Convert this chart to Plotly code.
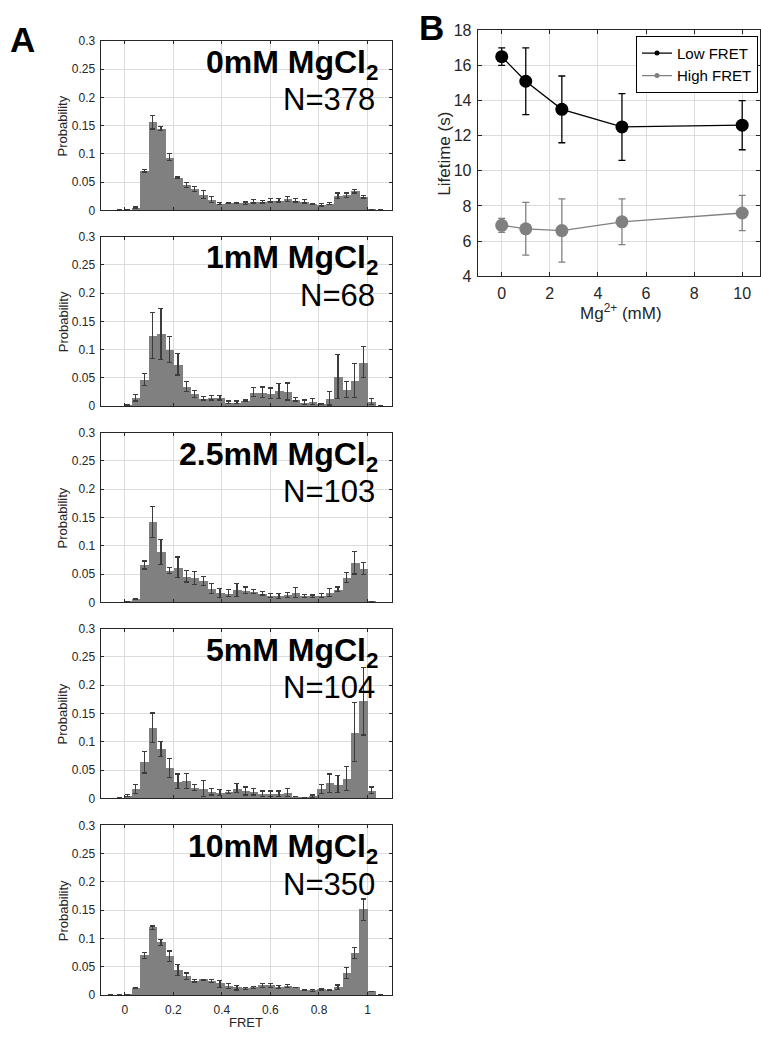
import plotly.graph_objects as go

# ---------------- data ----------------
fret_centers = [-0.058, -0.024, 0.011, 0.045, 0.080, 0.115, 0.149, 0.184, 0.219, 0.253,
                0.288, 0.323, 0.357, 0.392, 0.427, 0.462, 0.496, 0.531, 0.566, 0.600,
                0.635, 0.670, 0.704, 0.739, 0.774, 0.809, 0.843, 0.878, 0.913, 0.948,
                0.982, 1.017, 1.052]
bin_width = 0.0347

prob_0mM = [0, 0.001, 0.001, 0.005, 0.070, 0.156, 0.145, 0.094, 0.058, 0.045, 0.038, 0.028,
            0.019, 0.012, 0.013, 0.013, 0.013, 0.016, 0.015, 0.018, 0.018, 0.020, 0.018,
            0.016, 0.011, 0.010, 0.012, 0.026, 0.027, 0.034, 0.024, 0.002, 0.001]
err_0mM = [0, 0, 0, 0.001, 0.002, 0.012, 0.003, 0.006, 0.001, 0.004, 0.005, 0.007, 0.005,
           0.002, 0.001, 0.001, 0.002, 0.003, 0.002, 0.003, 0.003, 0.004, 0.003, 0.003,
           0.001, 0.002, 0.002, 0.005, 0.004, 0.003, 0.002, 0, 0]

prob_1mM = [0, 0, 0.002, 0.015, 0.047, 0.125, 0.128, 0.100, 0.074, 0.035, 0.022, 0.014,
            0.015, 0.015, 0.007, 0.007, 0.010, 0.025, 0.025, 0.023, 0.027, 0.026, 0.012,
            0.007, 0.008, 0.004, 0.014, 0.053, 0.029, 0.045, 0.078, 0.008, 0.001]
err_1mM = [0, 0, 0, 0.006, 0.011, 0.041, 0.045, 0.023, 0.019, 0.009, 0.006, 0.003, 0.004,
           0.004, 0.002, 0.002, 0.001, 0.008, 0.009, 0.009, 0.013, 0.015, 0.003, 0.004,
           0.005, 0, 0.012, 0.039, 0.014, 0.030, 0.027, 0.005, 0]

prob_2p5mM = [0, 0, 0.002, 0.006, 0.066, 0.142, 0.089, 0.056, 0.062, 0.046, 0.043, 0.038,
              0.024, 0.017, 0.016, 0.022, 0.021, 0.019, 0.016, 0.012, 0.011, 0.013, 0.017,
              0.011, 0.011, 0.012, 0.018, 0.023, 0.044, 0.070, 0.060, 0.002, 0]
err_2p5mM = [0, 0, 0, 0, 0.007, 0.027, 0.022, 0.005, 0.018, 0.010, 0.011, 0.008, 0.009,
             0.008, 0.006, 0.011, 0.006, 0.003, 0.003, 0.004, 0.004, 0.004, 0.009, 0.003,
             0.002, 0.003, 0.007, 0.004, 0.009, 0.020, 0.011, 0, 0]

prob_5mM = [0, 0.001, 0.005, 0.017, 0.064, 0.125, 0.087, 0.054, 0.030, 0.031, 0.019, 0.018,
            0.012, 0.010, 0.011, 0.018, 0.013, 0.012, 0.008, 0.008, 0.008, 0.010, 0.003,
            0.002, 0.004, 0.017, 0.027, 0.025, 0.035, 0.117, 0.172, 0.014, 0]
err_5mM = [0, 0, 0.002, 0.008, 0.019, 0.026, 0.013, 0.017, 0.013, 0.013, 0.005, 0.014,
           0.006, 0.005, 0.003, 0.008, 0.007, 0.006, 0.005, 0.005, 0.005, 0.007, 0, 0,
           0.002, 0.008, 0.016, 0.015, 0.021, 0.052, 0.060, 0.006, 0]

prob_10mM = [0, 0, 0.001, 0.012, 0.070, 0.119, 0.093, 0.069, 0.044, 0.033, 0.025, 0.027,
             0.025, 0.020, 0.016, 0.013, 0.012, 0.013, 0.017, 0.017, 0.014, 0.016, 0.014,
             0.009, 0.008, 0.010, 0.009, 0.014, 0.039, 0.074, 0.151, 0.007, 0]
err_10mM = [0, 0, 0, 0.001, 0.005, 0.003, 0.005, 0.009, 0.010, 0.006, 0.002, 0.001, 0.003,
            0.006, 0.005, 0.004, 0.002, 0.002, 0.003, 0.003, 0.003, 0.003, 0, 0, 0.002,
            0.001, 0.001, 0.004, 0.010, 0.010, 0.019, 0, 0]

panel_titles = ["0mM MgCl<sub>2</sub>", "1mM MgCl<sub>2</sub>", "2.5mM MgCl<sub>2</sub>",
                "5mM MgCl<sub>2</sub>", "10mM MgCl<sub>2</sub>"]
panel_counts = ["N=378", "N=68", "N=103", "N=104", "N=350"]
panel_probs = [prob_0mM, prob_1mM, prob_2p5mM, prob_5mM, prob_10mM]
panel_errs = [err_0mM, err_1mM, err_2p5mM, err_5mM, err_10mM]

hist_yticks = [0, 0.05, 0.1, 0.15, 0.2, 0.25, 0.3]
hist_yticklabels = ["0", "0.05", "0.1", "0.15", "0.2", "0.25", "0.3"]
hist_xticks = [0, 0.2, 0.4, 0.6, 0.8, 1]
hist_xticklabels = ["0", "0.2", "0.4", "0.6", "0.8", "1"]

mg_conc = [0, 1, 2.5, 5, 10]
low_fret_life = [16.5, 15.1, 13.5, 12.5, 12.6]
low_fret_err = [0.5, 1.9, 1.9, 1.9, 1.4]
high_fret_life = [6.9, 6.7, 6.6, 7.1, 7.6]
high_fret_err = [0.4, 1.5, 1.8, 1.3, 1.0]

# ---------------- layout geometry (pixels) ----------------
W, H = 761, 1040
FONT = "Liberation Sans, Arial, sans-serif"
AX = "#262626"
GRID = "#dcdcdc"
BAR = "#808080"
ERR = "#3c3c3c"

def px_x(p):
    return p / W

def px_y(p):
    return 1 - p / H

a_left, a_right = 100.7, 392.3
panel_tops = [33.3, 232.3, 431.7, 631.0, 831.0]
panel_h = 172.5

fig = go.Figure()
annotations = []

for k in range(5):
    xa = "x" if k == 0 else f"x{k+1}"
    ya = "y" if k == 0 else f"y{k+1}"
    fig.add_trace(go.Bar(
        x=fret_centers, y=panel_probs[k], width=bin_width,
        marker=dict(color=BAR, line=dict(width=0)),
        error_y=dict(type="data", array=panel_errs[k], color=ERR, thickness=1.2, width=2.5),
        xaxis=xa, yaxis=ya, showlegend=False,
    ))
    top = panel_tops[k]
    bot = top + panel_h
    axkey_x = "xaxis" if k == 0 else f"xaxis{k+1}"
    axkey_y = "yaxis" if k == 0 else f"yaxis{k+1}"
    last = (k == 4)
    fig.update_layout(**{
        axkey_x: dict(domain=[px_x(a_left), px_x(a_right)], anchor=ya, range=[-0.1, 1.1],
                      tickvals=hist_xticks, ticktext=hist_xticklabels, showticklabels=last,
                      ticks="inside", ticklen=3, tickcolor=AX, showline=True, linecolor=AX,
                      linewidth=1, mirror="ticks", showgrid=True, gridcolor=GRID, zeroline=False,
                      ticklabelstandoff=4,
                      tickfont=dict(family=FONT, size=12, color=AX)),
        axkey_y: dict(domain=[px_y(bot), px_y(top)], anchor=xa, range=[0, 0.3],
                      tickvals=hist_yticks, ticktext=hist_yticklabels,
                      ticks="inside", ticklen=3, tickcolor=AX, showline=True, linecolor=AX,
                      linewidth=1, mirror="ticks", showgrid=True, gridcolor=GRID, zeroline=False,
                      ticklabelstandoff=2,
                      tickfont=dict(family=FONT, size=12, color=AX)),
    })
    annotations.append(dict(text="<b>" + panel_titles[k] + "</b>", xref="paper", yref="paper",
                            x=px_x(381), y=px_y(top + 1), xanchor="right", yanchor="top",
                            showarrow=False, font=dict(family=FONT, size=32, color="black")))
    annotations.append(dict(text=panel_counts[k], xref="paper", yref="paper",
                            x=px_x(377), y=px_y(top + 40), xanchor="right", yanchor="top",
                            showarrow=False, font=dict(family=FONT, size=31, color="black")))
    annotations.append(dict(text="Probability", xref="paper", yref="paper",
                            x=px_x(63), y=px_y(top + panel_h / 2), xanchor="center", yanchor="middle",
                            textangle=-90, showarrow=False, font=dict(family=FONT, size=13, color=AX)))

annotations.append(dict(text="FRET", xref="paper", yref="paper", x=px_x(246.5), y=px_y(1031),
                        xanchor="center", yanchor="middle", showarrow=False,
                        font=dict(family=FONT, size=13, color=AX)))
annotations.append(dict(text="<b>A</b>", xref="paper", yref="paper", x=px_x(8), y=px_y(10),
                        xanchor="left", yanchor="top", showarrow=False,
                        font=dict(family=FONT, size=35, color="black")))
annotations.append(dict(text="<b>B</b>", xref="paper", yref="paper", x=px_x(418), y=px_y(-2),
                        xanchor="left", yanchor="top", showarrow=False,
                        font=dict(family=FONT, size=35, color="black")))

# ---------------- panel B ----------------
b_left, b_right, b_top, b_bot = 478.3, 761, 22.7, 272.7
fig.add_trace(go.Scatter(
    x=mg_conc, y=high_fret_life, mode="lines+markers",
    line=dict(color="#808080", width=1.3), marker=dict(color="#808080", size=13),
    error_y=dict(type="data", array=high_fret_err, color="#808080", thickness=1.3, width=3.5),
    xaxis="x6", yaxis="y6", showlegend=False))
fig.add_trace(go.Scatter(
    x=mg_conc, y=low_fret_life, mode="lines+markers",
    line=dict(color="black", width=1.3), marker=dict(color="black", size=13),
    error_y=dict(type="data", array=low_fret_err, color="black", thickness=1.3, width=3.5),
    xaxis="x6", yaxis="y6", showlegend=False))
fig.add_trace(go.Scatter(x=[None], y=[None], mode="lines+markers", name="Low FRET",
                         line=dict(color="black", width=1.3), marker=dict(color="black", size=5),
                         xaxis="x6", yaxis="y6"))
fig.add_trace(go.Scatter(x=[None], y=[None], mode="lines+markers", name="High FRET",
                         line=dict(color="#808080", width=1.3), marker=dict(color="#808080", size=5),
                         xaxis="x6", yaxis="y6"))

fig.update_layout(
    xaxis6=dict(domain=[px_x(b_left), 1.0], anchor="y6", range=[-1, 10.74],
                tickvals=[0, 2, 4, 6, 8, 10], ticks="inside", ticklen=4, tickcolor=AX,
                showline=True, linecolor=AX, linewidth=1, mirror="ticks", showgrid=True,
                gridcolor=GRID, zeroline=False, ticklabelstandoff=3,
                tickfont=dict(family=FONT, size=16, color=AX)),
    yaxis6=dict(domain=[px_y(b_bot), px_y(b_top)], anchor="x6", range=[4, 18],
                tickvals=[4, 6, 8, 10, 12, 14, 16, 18], ticks="inside", ticklen=4, tickcolor=AX,
                showline=True, linecolor=AX, linewidth=1, mirror="ticks", showgrid=True,
                gridcolor=GRID, zeroline=False, ticklabelstandoff=2,
                tickfont=dict(family=FONT, size=16, color=AX)),
)
annotations.append(dict(text="Lifetime (s)", xref="paper", yref="paper", x=px_x(445),
                        y=px_y((b_top + b_bot) / 2), xanchor="center", yanchor="middle",
                        textangle=-90, showarrow=False, font=dict(family=FONT, size=17, color=AX)))
annotations.append(dict(text="Mg<sup>2+</sup> (mM)", xref="paper", yref="paper", x=px_x(622),
                        y=px_y(309), xanchor="center", yanchor="middle",
                        showarrow=False, font=dict(family=FONT, size=17, color=AX)))

fig.update_layout(
    width=W, height=H, margin=dict(l=0, r=0, t=0, b=0),
    paper_bgcolor="white", plot_bgcolor="white",
    annotations=annotations, bargap=0,
    legend=dict(x=px_x(759), y=px_y(28.3), xanchor="right", yanchor="top",
                bgcolor="white", bordercolor="black", borderwidth=1,
                font=dict(family=FONT, size=15, color="black"),
                itemwidth=30, tracegroupgap=0),
)

fig.write_html("out.html", config={"displayModeBar": False},
               post_script="document.body.style.margin='0px';document.body.style.overflow='hidden';")
